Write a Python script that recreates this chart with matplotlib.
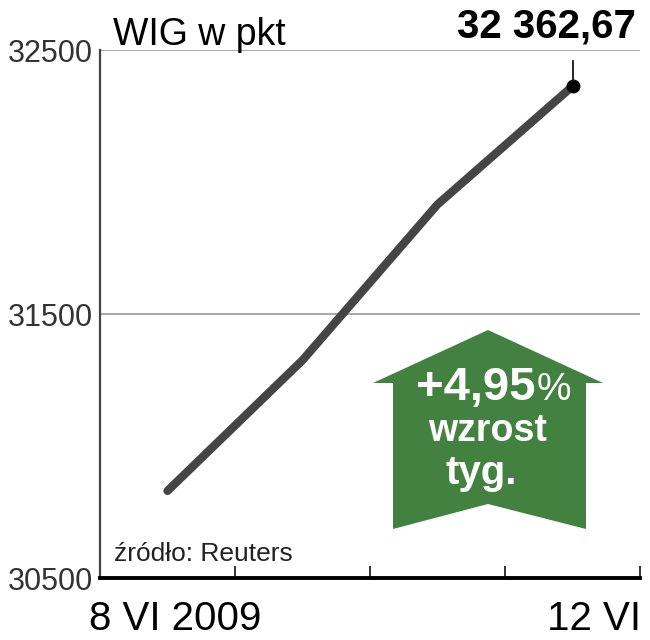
import matplotlib.pyplot as plt
from matplotlib.patches import Polygon

# WIG, sesje 8-12 VI 2009 (11 VI swieto)
days = [0.5, 1.5, 2.5, 3.5]
wig = [30830, 31325, 31915, 32362.67]
y_ticks = [30500, 31500, 32500]
x_labels = ["8 VI 2009", "12 VI"]
last_label = "32 362,67"
change_label = "+4,95"

narrow = ["Liberation Sans Narrow", "Liberation Sans", "DejaVu Sans"]


def main():
    fig = plt.figure(figsize=(6.5, 6.4), dpi=100)
    ax = fig.add_axes([100 / 650, 1 - 578 / 640, 540 / 650, 528 / 640])

    ax.set_xlim(0, 4)
    ax.set_ylim(30500, 32500)

    for y in y_ticks[1:]:
        ax.axhline(y, color="#a8a8a8", lw=1.4, zorder=1)

    ax.plot(days, wig, color="#454545", lw=6, solid_capstyle="round", zorder=3)
    ax.plot(days[-1], wig[-1], "o", color="black", ms=9, zorder=4)
    ax.plot([days[-1], days[-1]], [wig[-1], 32460], color="black", lw=1.2, zorder=4)

    for s in ["top", "right"]:
        ax.spines[s].set_visible(False)
    ax.spines["left"].set_color("#444444")
    ax.spines["left"].set_linewidth(1.6)
    ax.spines["bottom"].set_color("black")
    ax.spines["bottom"].set_linewidth(2.8)

    ax.set_xticks([1, 2, 3, 4])
    ax.set_xticklabels([])
    ax.tick_params(axis="x", direction="in", length=9, width=1.4, color="#333333")
    ax.set_yticks(y_ticks)
    ax.set_yticklabels([str(v) for v in y_ticks], family=narrow, fontsize=22, color="#333333")
    ax.tick_params(axis="y", length=0, pad=5)

    # etykiety osi x
    fig.text(175 / 650, 1 - 630 / 640, x_labels[0], family=narrow, fontsize=29,
             ha="center", va="baseline")
    fig.text(641 / 650, 1 - 630 / 640, x_labels[1], family=narrow, fontsize=29,
             ha="right", va="baseline")

    fig.text(113 / 650, 1 - 45 / 640, "WIG w pkt", family=narrow, fontsize=27,
             ha="left", va="baseline")
    fig.text(636 / 650, 1 - 38 / 640, last_label, family=narrow, fontsize=29, weight="bold",
             ha="right", va="baseline")
    ax.text(0.1, 30565, "źródło: Reuters", family=narrow, fontsize=19, color="#222222",
            ha="left", va="baseline")

    # zielona strzalka
    arrow = [(373, 383), (488, 330), (603, 383), (586, 383), (586, 529), (488, 504),
             (393, 529), (393, 383)]
    poly = Polygon([(x / 650, 1 - y / 640) for x, y in arrow], closed=True,
                   transform=fig.transFigure, facecolor="#42813f", edgecolor="none", zorder=5)
    fig.patches.append(poly)
    fig.text(476 / 650, 1 - 400 / 640, change_label, family=narrow, fontsize=34, weight="bold",
             color="white", ha="center", va="baseline", zorder=6)
    fig.text(537 / 650, 1 - 400 / 640, "%", family=narrow, fontsize=28,
             color="white", ha="left", va="baseline", zorder=6)
    fig.text(488 / 650, 1 - 441 / 640, "wzrost", family=narrow, fontsize=27, weight="bold",
             color="white", ha="center", va="baseline", zorder=6)
    fig.text(481 / 650, 1 - 484 / 640, "tyg.", family=narrow, fontsize=29, weight="bold",
             color="white", ha="center", va="baseline", zorder=6)

    fig.savefig("out.png", dpi=100)


if __name__ == "__main__":
    main()
